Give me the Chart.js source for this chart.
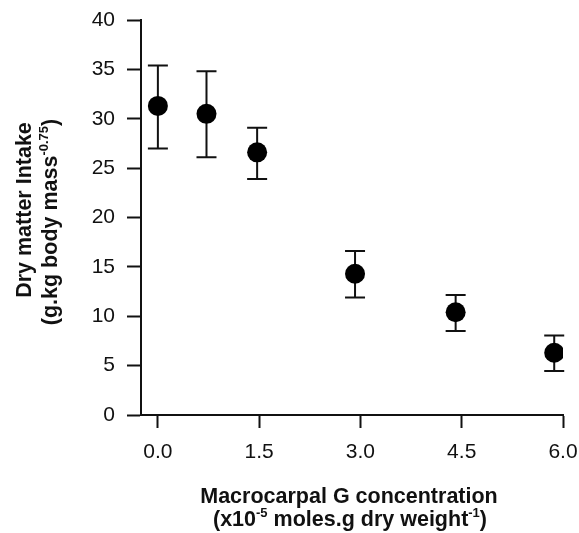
<html><head><title>Dry matter intake vs Macrocarpal G</title>
<style>
    body {
        margin: 0;
        background: #fff;
    }
    #wrap {
        width: 579px;
        height: 533px;
    }
</style>
<script src="https://cdn.jsdelivr.net/npm/chart.js"></script>
</head>
<body>
<div id="wrap"><canvas id="chart" width="579" height="533"></canvas></div>

<script>
// values
const concentration = [0.0, 0.72, 1.47, 2.92, 4.41, 5.87];
const intake = [31.3, 30.5, 26.6, 14.3, 10.4, 6.3];
const errLow = [27.0, 26.1, 23.9, 11.9, 8.5, 4.45];
const errHigh = [35.4, 34.8, 29.1, 16.6, 12.15, 8.05];
const xTicks = [0, 1.5, 3.0, 4.5, 6.0];
const yTicks = [0, 5, 10, 15, 20, 25, 30, 35, 40];

const ink = '#111';
const tickFont = { family: 'Liberation Sans, Arial, sans-serif', size: 21 };
const titleFont = 'bold 21.5px "Liberation Sans", Arial, sans-serif';
const supFont = 'bold 13px "Liberation Sans", Arial, sans-serif';

// draw a line of text with superscript parts, centred on x
function drawRich(ctx, parts, x, y) {
    let total = 0;
    parts.forEach(p => {
        ctx.font = p.sup ? supFont : titleFont;
        total += ctx.measureText(p.t).width;
    });
    let cx = x - total / 2;
    parts.forEach(p => {
        ctx.font = p.sup ? supFont : titleFont;
        ctx.fillText(p.t, cx, p.sup ? y - 9 : y);
        cx += ctx.measureText(p.t).width;
    });
}

const errorBars = {
    id: 'errorBars',
    beforeDatasetsDraw(chart) {
        const ctx = chart.ctx, xs = chart.scales.x, ys = chart.scales.y;
        ctx.save();
        ctx.strokeStyle = ink;
        ctx.lineWidth = 2;
        concentration.forEach((c, i) => {
            const px = xs.getPixelForValue(c);
            const top = ys.getPixelForValue(errHigh[i]);
            const bot = ys.getPixelForValue(errLow[i]);
            ctx.beginPath();
            ctx.moveTo(px, top); ctx.lineTo(px, bot);
            ctx.moveTo(px - 10, top); ctx.lineTo(px + 10, top);
            ctx.moveTo(px - 10, bot); ctx.lineTo(px + 10, bot);
            ctx.stroke();
        });
        ctx.restore();
    }
};

const axisTitles = {
    id: 'axisTitles',
    afterDraw(chart) {
        const ctx = chart.ctx;
        ctx.save();
        ctx.fillStyle = ink;
        ctx.textBaseline = 'alphabetic';
        ctx.textAlign = 'left';
        drawRich(ctx, [{ t: 'Macrocarpal G concentration' }], 349, 503);
        drawRich(ctx, [
            { t: '(x10' }, { t: '-5', sup: true },
            { t: ' moles.g dry weight' }, { t: '-1', sup: true }, { t: ')' }
        ], 350, 526);

        ctx.save();
        ctx.translate(31, 210);
        ctx.rotate(-Math.PI / 2);
        drawRich(ctx, [{ t: 'Dry matter Intake' }], 0, 0);
        ctx.restore();
        ctx.save();
        ctx.translate(57, 222);
        ctx.rotate(-Math.PI / 2);
        drawRich(ctx, [
            { t: '(g.kg body mass' }, { t: '-0.75', sup: true }, { t: ')' }
        ], 0, 0);
        ctx.restore();
        ctx.restore();
    }
};

new Chart(document.getElementById('chart'), {
    type: 'scatter',
    data: {
        datasets: [{
            data: concentration.map((c, i) => ({ x: c, y: intake[i] })),
            pointRadius: 10,
            pointHoverRadius: 10,
            backgroundColor: '#000',
            borderWidth: 0
        }]
    },
    options: {
        responsive: false,
        animation: false,
        layout: { padding: { top: 20, right: 16, left: 0, bottom: 0 } },
        plugins: {
            legend: { display: false },
            tooltip: { enabled: false }
        },
        scales: {
            x: {
                type: 'linear',
                min: -0.25,
                max: 6.0,
                afterBuildTicks: s => { s.ticks = xTicks.map(v => ({ value: v })); },
                afterFit: s => { s.height = 118; s.paddingRight = 0; s.paddingLeft = 0; },
                border: { color: ink, width: 2 },
                grid: { drawOnChartArea: false, tickLength: 13, tickWidth: 2, tickColor: ink },
                ticks: {
                    color: ink,
                    font: tickFont,
                    padding: 12,
                    maxRotation: 0,
                    callback: v => v.toFixed(1)
                }
            },
            y: {
                min: 0,
                max: 40,
                afterBuildTicks: s => { s.ticks = yTicks.map(v => ({ value: v })); },
                afterFit: s => { s.width = 141; s.paddingTop = 0; s.paddingBottom = 0; },
                border: { color: ink, width: 2 },
                grid: { drawOnChartArea: false, tickLength: 14, tickWidth: 2, tickColor: ink },
                ticks: {
                    color: ink,
                    font: tickFont,
                    padding: 12
                }
            }
        }
    },
    plugins: [errorBars, axisTitles]
});
</script>
</body></html>
